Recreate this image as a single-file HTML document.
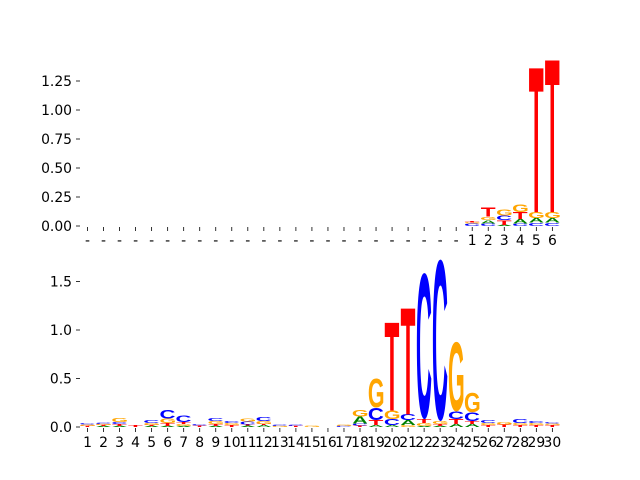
<!DOCTYPE html>
<html><head><meta charset="utf-8"><style>body{margin:0;background:#fff}svg{display:block}</style></head>
<body>
<svg id="chart" width="640" height="480" xmlns="http://www.w3.org/2000/svg" font-family="DejaVu Sans, Liberation Sans, sans-serif"></svg>
<script>
// top panel: 30 positions, first 24 are gaps
const topLabels = ["-","-","-","-","-","-","-","-","-","-","-","-","-","-","-","-","-","-","-","-","-","-","-","-","1","2","3","4","5","6"];
const topYTicks = [0,0.25,0.5,0.75,1.0,1.25];
const topYTickLabels = ["0.00","0.25","0.50","0.75","1.00","1.25"];
// stacks bottom-to-top: [letter, height]
const topStacks = [[],[],[],[],[],[],[],[],[],[],[],[],[],[],[],[],[],[],[],[],[],[],[],[],
 [["C",0.02],["G",0.01],["T",0.01]],
 [["C",0.02],["A",0.03],["G",0.03],["T",0.08]],
 [["A",0.01],["T",0.04],["C",0.04],["G",0.05]],
 [["C",0.02],["A",0.04],["T",0.06],["G",0.07]],
 [["C",0.03],["A",0.04],["G",0.05],["T",1.26]],
 [["C",0.03],["A",0.04],["G",0.05],["T",1.33]]];
const botLabels = ["1","2","3","4","5","6","7","8","9","10","11","12","13","14","15","16","17","18","19","20","21","22","23","24","25","26","27","28","29","30"];
const botYTicks = [0,0.5,1.0,1.5];
const botYTickLabels = ["0.0","0.5","1.0","1.5"];
const botStacks = [
 [["T",0.01],["G",0.015],["C",0.015]],
 [["A",0.01],["T",0.01],["G",0.01],["C",0.01]],
 [["A",0.01],["T",0.02],["C",0.02],["G",0.04]],
 [["T",0.02]],
 [["A",0.01],["T",0.01],["G",0.02],["C",0.03]],
 [["A",0.01],["T",0.03],["G",0.045],["C",0.09]],
 [["A",0.01],["G",0.02],["T",0.02],["C",0.07]],
 [["T",0.015],["C",0.015]],
 [["A",0.01],["T",0.02],["G",0.03],["C",0.03]],
 [["T",0.02],["G",0.02],["C",0.02]],
 [["A",0.015],["T",0.01],["C",0.03],["G",0.03]],
 [["A",0.02],["T",0.01],["G",0.03],["C",0.04]],
 [["G",0.01],["C",0.01]],
 [["T",0.01],["C",0.01]],
 [["G",0.01]],
 [],
 [["C",0.01],["G",0.01]],
 [["T",0.015],["C",0.02],["A",0.07],["G",0.07]],
 [["A",0.02],["T",0.05],["C",0.13],["G",0.30]],
 [["A",0.02],["C",0.06],["G",0.09],["T",0.915]],
 [["G",0.02],["A",0.05],["C",0.06],["T",1.11]],
 [["A",0.01],["G",0.03],["T",0.04],["C",1.51]],
 [["A",0.01],["T",0.02],["G",0.03],["C",1.67]],
 [["A",0.03],["T",0.05],["C",0.08],["G",0.72]],
 [["A",0.03],["T",0.03],["C",0.09],["G",0.2]],
 [["T",0.02],["G",0.02],["C",0.03]],
 [["T",0.025],["G",0.025]],
 [["T",0.02],["G",0.02],["C",0.04]],
 [["T",0.02],["G",0.02],["C",0.02]],
 [["T",0.02],["G",0.015],["C",0.015]]];

const NS="http://www.w3.org/2000/svg";
const svg=document.getElementById('chart');
const colors={A:"#008000",C:"#0000ff",G:"#ffa500",T:"#ff0000"};
const FONT="bold 100px 'Liberation Sans', sans-serif";
const ctx=document.createElement('canvas').getContext('2d');
ctx.font=FONT;
const metrics={};
["A","C","G","T"].forEach(L=>{
  const m=ctx.measureText(L);
  let l=m.actualBoundingBoxLeft, r=m.actualBoundingBoxRight, a=m.actualBoundingBoxAscent, d=m.actualBoundingBoxDescent;
  if(!(r+l>1)){l=-3;r=69;} if(!(a+d>1)){a=73;d=0;}
  metrics[L]={l,r,a,d};
});
function xc(i){return 87.5+i*16.03;}
function mk(tag,attrs,parent){const e=document.createElementNS(NS,tag);for(const k in attrs)e.setAttribute(k,attrs[k]);(parent||svg).appendChild(e);return e;}

function panel(name,stacks,labels,yt,ytl,y0,scale,labY){
  const g=mk('g',{});
  
  
  const w=14.6;
  stacks.forEach((st,i)=>{
    let base=0;
    st.forEach(([L,h])=>{
      const yb=y0-base*scale, hp=h*scale;
      base+=h;
      if(hp<0.3)return;
      const m=metrics[L];
      const sx=w/(m.l+m.r), sy=hp/(m.a+m.d);
      const t=mk('text',{x:0,y:0,'font-family':"Liberation Sans, sans-serif",'font-weight':'bold','font-size':100,fill:colors[L],
        transform:`translate(${xc(i)-w/2},${yb}) scale(${sx},${sy}) translate(${m.l},${-m.d})`},g);
      t.textContent=L;
      
      
    });
  });
  labels.forEach((lb,i)=>{
    const tk=mk('line',{x1:xc(i),x2:xc(i),y1:y0+1,y2:y0+5,stroke:'#000','stroke-width':0.8},g);
    
    
    const t=mk('text',{x:xc(i),y:labY,'text-anchor':'middle','font-size':13.9,fill:'#000'},g);
    t.textContent=lb;
    
    
  });
  yt.forEach((v,k)=>{
    const y=y0-v*scale;
    const tk=mk('line',{x1:76,x2:80,y1:y,y2:y,stroke:'#000','stroke-width':0.8},g);
    
    
    const t=mk('text',{x:72,y:y+5,'text-anchor':'end','font-size':13.9,fill:'#000'},g);
    t.textContent=ytl[k];
    
    
  });
}
panel('top-logo-panel',topStacks,topLabels,topYTicks,topYTickLabels,226,116,245);
panel('bottom-logo-panel',botStacks,botLabels,botYTicks,botYTickLabels,427,97,447);
</script>
</body></html>
